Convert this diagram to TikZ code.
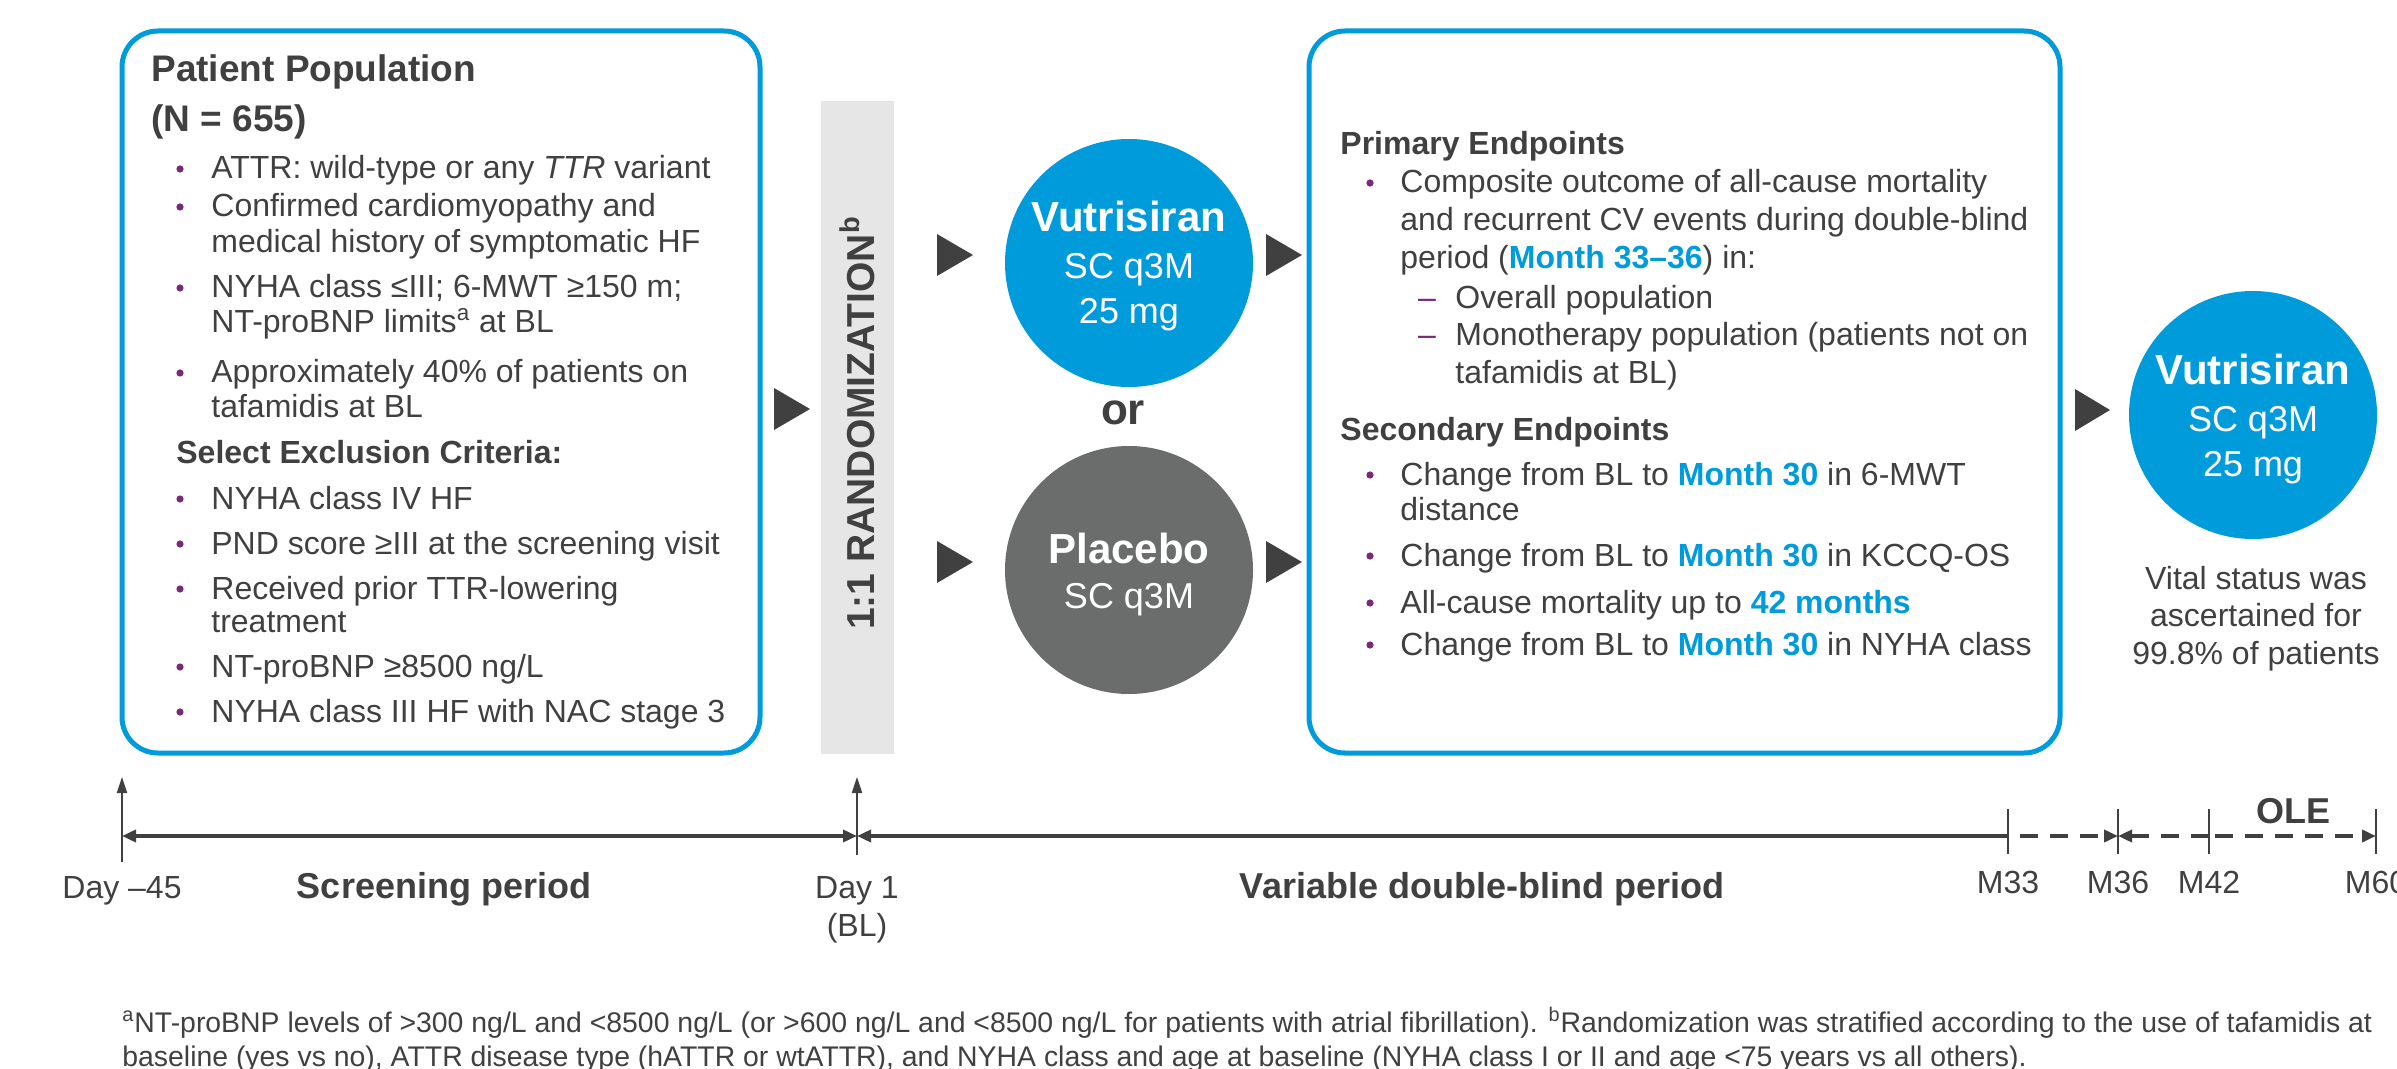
\documentclass[tikz,border=0pt]{standalone}
\usepackage{fontspec}
\setmainfont{Liberation Sans}
\usetikzlibrary{arrows.meta}
\definecolor{vblue}{RGB}{0,155,219}
\definecolor{pgray}{RGB}{106,109,108}
\definecolor{tgray}{RGB}{64,64,64}
\definecolor{bpurple}{RGB}{122,40,120}
\definecolor{barbg}{RGB}{230,230,230}
\newcommand{\hb}[1]{\textbf{\textcolor{vblue}{#1}}}
\begin{document}
\begin{tikzpicture}[x=0.5pt,y=-0.5pt,
  body/.style={inner sep=0pt, anchor=base west, text=tgray, font=\fontsize{16}{19}\selectfont},
  head/.style={body, font=\bfseries\fontsize{16}{19}\selectfont},
  ttl/.style={body, font=\bfseries\fontsize{18.5}{22}\selectfont},
  dot/.style={circle, fill=bpurple, inner sep=0pt, minimum size=3.6pt},
  dsh/.style={inner sep=0pt, anchor=base, text=bpurple, font=\fontsize{16}{19}\selectfont},
  panel/.style={draw=vblue, line width=2.5pt, rounded corners=18pt},
  tri/.style={fill=tgray},
  disc/.style={circle, minimum size=124pt, inner sep=0pt},
  ctr/.style={inner sep=0pt, anchor=base, text=white, font=\fontsize{18}{22}\selectfont},
  ctrb/.style={ctr, font=\bfseries\fontsize{21}{25}\selectfont},
  tl/.style={line width=2pt, draw=tgray},
  tickln/.style={line width=1pt, draw=tgray},
  lab/.style={inner sep=0pt, anchor=base, text=tgray, font=\fontsize{16}{19}\selectfont},
  labb/.style={lab, font=\bfseries\fontsize{18}{22}\selectfont},
  foot/.style={inner sep=0pt, anchor=base west, text=tgray, font=\fontsize{14.2}{17}\selectfont},
]
\useasboundingbox[fill=white] (0,0) rectangle (2397,1069);

% ---------- left panel ----------
\draw[panel] (122,31) rectangle (760,753);
\node[ttl] (pp1) at (151,82) {Patient Population};
\node[ttl] (pp2) at (151,132) {(N = 655)};
\foreach \n/\y in {a/179,b/217,c/298,d/383,e/509,f/554,g/599,h/677,i/722}
  \node[dot] (bl\n) at (180,\y-10) {};
\node[body] (l1) at (211,179) {ATTR: wild-type or any \textit{TTR} variant};
\node[body] (l2) at (211,217) {Confirmed cardiomyopathy and};
\node[body] (l3) at (211,253) {medical history of symptomatic HF};
\node[body] (l4) at (211,298) {NYHA class ≤III; 6-MWT ≥150 m;};
\node[body] (l5) at (211,333) {NT-proBNP limits\textsuperscript{a} at BL};
\node[body] (l6) at (211,383) {Approximately 40\% of patients on};
\node[body] (l7) at (211,417) {tafamidis at BL};
\node[head] (lx) at (176,463) {Select Exclusion Criteria:};
\node[body] (l8) at (211,509) {NYHA class IV HF};
\node[body] (l9) at (211,554) {PND score ≥III at the screening visit};
\node[body] (l10) at (211,599) {Received prior TTR-lowering};
\node[body] (l11) at (211,632) {treatment};
\node[body] (l12) at (211,677) {NT-proBNP ≥8500 ng/L};
\node[body] (l13) at (211,722) {NYHA class III HF with NAC stage 3};

% ---------- randomization bar ----------
\fill[tri] (774,388) -- (810,409) -- (774,430) -- cycle;
\fill[barbg] (821,101) rectangle (894,754);
\node[rotate=90, inner sep=0pt, text=tgray, font=\bfseries\fontsize{19.5}{24}\selectfont] (rand) at (857,423) {1:1 RANDOMIZATION\textsuperscript{b}};

% ---------- arms ----------
\fill[tri] (937,234) -- (973,255) -- (937,276) -- cycle;
\fill[tri] (937,541) -- (973,562) -- (937,583) -- cycle;
\node[disc, fill=vblue] (v1) at (1129,263) {};
\node[ctrb] (v1a) at ([yshift=15.5pt]v1.center) {Vutrisiran};
\node[ctr] (v1b) at ([yshift=-8pt]v1.center) {SC q3M};
\node[ctr] (v1c) at ([yshift=-30.5pt]v1.center) {25 mg};
\node[inner sep=0pt, text=tgray, font=\bfseries\fontsize{22}{26}\selectfont] (or) at (1123,413) {or};
\node[disc, fill=pgray] (pl) at (1129,570) {};
\node[ctrb] (pla) at ([yshift=3.5pt]pl.center) {Placebo};
\node[ctr] (plb) at ([yshift=-19pt]pl.center) {SC q3M};
\fill[tri] (1266,234) -- (1302,255) -- (1266,276) -- cycle;
\fill[tri] (1266,541) -- (1302,562) -- (1266,583) -- cycle;

% ---------- right panel ----------
\draw[panel] (1309,31) rectangle (2060,753);
\node[head] (ph) at (1340,155) {Primary Endpoints};
\foreach \n/\y in {a/193,b/485,c/566,d/613,e/655}
  \node[dot] (br\n) at (1370,\y-10) {};
\node[dsh] (da) at (1427,309) {–};
\node[dsh] (db) at (1427,346) {–};
\node[body] (r1) at (1400,193) {Composite outcome of all-cause mortality};
\node[body] (r2) at (1400,231) {and recurrent CV events during double-blind};
\node[body] (r3) at (1400,269) {period (\hb{Month 33–36}) in:};
\node[body] (r4) at (1455,309) {Overall population};
\node[body] (r5) at (1455,346) {Monotherapy population (patients not on};
\node[body] (r6) at (1455,384) {tafamidis at BL)};
\node[head] (sh) at (1340,440) {Secondary Endpoints};
\node[body] (r7) at (1400,485) {Change from BL to \hb{Month 30} in 6-MWT};
\node[body] (r8) at (1400,520) {distance};
\node[body] (r9) at (1400,566) {Change from BL to \hb{Month 30} in KCCQ-OS};
\node[body] (r10) at (1400,613) {All-cause mortality up to \hb{42 months}};
\node[body] (r11) at (1400,655) {Change from BL to \hb{Month 30} in NYHA class};

% ---------- OLE ----------
\fill[tri] (2075,389) -- (2110,410) -- (2075,431) -- cycle;
\node[disc, fill=vblue] (v2) at (2253,415) {};
\node[ctrb] (v2a) at ([yshift=15pt]v2.center) {Vutrisiran};
\node[ctr] (v2b) at ([yshift=-8pt]v2.center) {SC q3M};
\node[ctr] (v2c) at ([yshift=-30.5pt]v2.center) {25 mg};
\node[lab] (vs1) at (2256,589) {Vital status was};
\node[lab] (vs2) at (2256,626) {ascertained for};
\node[lab] (vs3) at (2256,664) {99.8\% of patients};

% ---------- timeline ----------
\coordinate (t45) at (122,836);
\coordinate (t1) at (857,836);
\coordinate (m33) at (2008,836);
\coordinate (m36) at (2118,836);
\coordinate (m42) at (2209,836);
\coordinate (m60) at (2376,836);
\coordinate (t45lo) at (122,862);
\coordinate (t45hi) at (122,777);
\coordinate (t1lo) at (857,855);
\coordinate (t1hi) at (857,777);
\draw[tickln, -{Triangle[length=8pt,width=5pt]}] (t45lo) -- (t45hi);
\draw[tickln, -{Triangle[length=8pt,width=5pt]}] (t1lo) -- (t1hi);
\foreach \c in {m33,m36,m42,m60}
  \draw[tickln] ([yshift=13.5pt]\c) -- ([yshift=-9pt]\c);
\draw[tl, {Triangle[length=7pt,width=6pt]}-{Triangle[length=7pt,width=6pt]}] (t45) -- (t1);
\draw[tl, {Triangle[length=7pt,width=6pt]}-] (t1) -- (m33);
\draw[tl, dash pattern=on 9pt off 6pt, -{Triangle[length=7pt,width=6pt]}] ([xshift=6pt]m33) -- (m36);
\draw[tl, dash pattern=on 9pt off 6pt, {Triangle[length=7pt,width=6pt]}-] (m36) -- (m42);
\draw[tl, dash pattern=on 9pt off 6pt, -{Triangle[length=7pt,width=6pt]}] ([xshift=3pt]m42) -- (m60);

\node[lab] (d45) at (122,898) {Day –45};
\node[labb] (scr) at (444,898) {Screening period};
\node[lab] (d1) at (857,898) {Day 1};
\node[lab] (bl) at (857,936) {(BL)};
\node[labb] (vdb) at (1482,898) {Variable double-blind period};
\node[lab] (n33) at (2008,893) {M33};
\node[lab] (n36) at (2118,893) {M36};
\node[lab] (n42) at (2209,893) {M42};
\node[lab] (n60) at (2376,893) {M60};
\node[labb] (ole) at (2293,823) {OLE};

% ---------- footnotes ----------
\node[foot] (f1) at (122,1032) {\textsuperscript{a}NT-proBNP levels of >300 ng/L and <8500 ng/L (or >600 ng/L and <8500 ng/L for patients with atrial fibrillation). \textsuperscript{b}Randomization was stratified according to the use of tafamidis at};
\node[foot] (f2) at (122,1066) {baseline (yes vs no), ATTR disease type (hATTR or wtATTR), and NYHA class and age at baseline (NYHA class I or II and age <75 years vs all others).};
\end{tikzpicture}
\end{document}
